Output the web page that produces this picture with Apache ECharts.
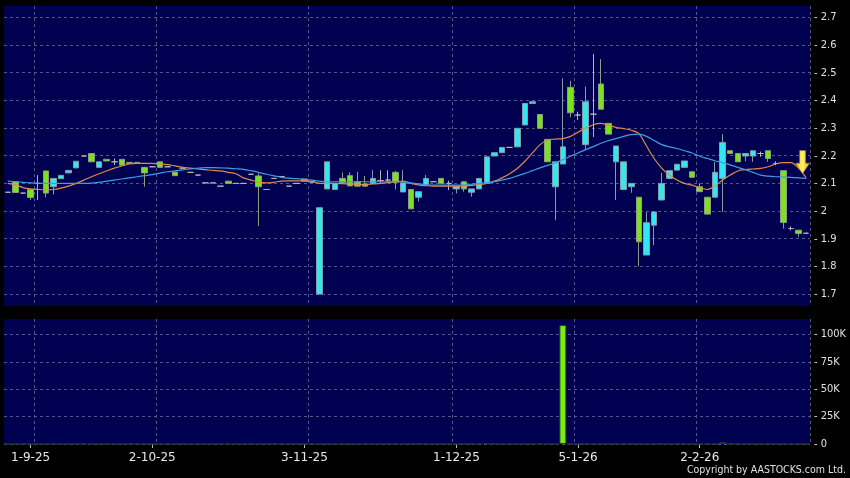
<!DOCTYPE html>
<html>
<head>
<meta charset="utf-8">
<script src="https://cdn.jsdelivr.net/npm/echarts@6/dist/echarts.min.js"></script>
<style>
	html, body { margin: 0; padding: 0; background: #000; }
	#chart { width: 850px; height: 478px; }
</style>
</head>
<body>
<div id="chart"></div>
<script>
	/*-----data-----*/
	var open = [2.068, 2.106, 2.065, 2.078, 2.100, 2.145, 2.088, 2.117, 2.138, 2.156,
		2.199, 2.208, 2.158, 2.187, 2.178, 2.187, 2.176, 2.176, 2.158, 2.160,
		2.178, 2.160, 2.141, 2.155, 2.140, 2.130, 2.102, 2.102, 2.090, 2.108,
		2.100, 2.100, 2.133, 2.127, 2.078, 2.118, 2.125, 2.090, 2.100, 2.116,
		2.105, 1.700, 2.080, 2.078, 2.118, 2.128, 2.106, 2.098, 2.100, 2.110,
		2.112, 2.140, 2.069, 2.078, 2.050, 2.096, 2.106, 2.118, 2.100, 2.080,
		2.106, 2.068, 2.080, 2.100, 2.199, 2.211, 2.230, 2.232, 2.311, 2.389,
		2.349, 2.259, 2.088, 2.170, 2.447, 2.347, 2.240, 2.350, 2.459, 2.317,
		2.178, 2.078, 2.088, 2.050, 1.841, 1.949, 2.040, 2.118, 2.148, 2.158,
		2.142, 2.088, 2.050, 2.050, 2.118, 2.218, 2.208, 2.199, 2.199, 2.208,
		2.218, 2.172, 2.146, 1.937, 1.931, 1.920];
	var close = [2.068, 2.067, 2.065, 2.049, 2.100, 2.065, 2.118, 2.129, 2.147, 2.180,
		2.199, 2.178, 2.178, 2.181, 2.178, 2.166, 2.172, 2.172, 2.138, 2.160,
		2.158, 2.160, 2.128, 2.155, 2.140, 2.130, 2.102, 2.102, 2.090, 2.100,
		2.100, 2.100, 2.133, 2.088, 2.078, 2.118, 2.125, 2.090, 2.100, 2.108,
		2.105, 2.012, 2.178, 2.100, 2.102, 2.091, 2.090, 2.090, 2.118, 2.110,
		2.112, 2.104, 2.102, 2.008, 2.070, 2.118, 2.106, 2.100, 2.100, 2.090,
		2.080, 2.080, 2.118, 2.196, 2.211, 2.230, 2.230, 2.299, 2.389, 2.395,
		2.299, 2.178, 2.178, 2.232, 2.355, 2.347, 2.395, 2.350, 2.368, 2.278,
		2.235, 2.178, 2.100, 1.889, 1.958, 1.997, 2.100, 2.146, 2.169, 2.181,
		2.122, 2.070, 1.989, 2.140, 2.248, 2.208, 2.178, 2.208, 2.218, 2.208,
		2.190, 2.172, 1.959, 1.937, 1.919, 1.920];
	var low = [2.068, 2.065, 2.065, 2.040, 2.040, 2.050, 2.060, 2.117, 2.138, 2.156,
		2.199, 2.178, 2.158, 2.181, 2.166, 2.166, 2.172, 2.172, 2.088, 2.160,
		2.158, 2.160, 2.128, 2.155, 2.140, 2.130, 2.102, 2.102, 2.090, 2.100,
		2.100, 2.100, 2.133, 1.946, 2.078, 2.118, 2.125, 2.090, 2.100, 2.108,
		2.105, 1.700, 2.080, 2.078, 2.102, 2.091, 2.090, 2.090, 2.100, 2.100,
		2.102, 2.078, 2.069, 2.008, 2.035, 2.096, 2.106, 2.100, 2.076, 2.064,
		2.070, 2.052, 2.080, 2.100, 2.199, 2.211, 2.230, 2.232, 2.311, 2.389,
		2.299, 2.178, 1.967, 2.170, 2.339, 2.329, 2.220, 2.268, 2.368, 2.278,
		2.040, 2.078, 2.066, 1.800, 1.841, 1.877, 2.040, 2.118, 2.148, 2.158,
		2.122, 2.070, 1.989, 2.050, 1.997, 2.208, 2.178, 2.180, 2.178, 2.196,
		2.178, 2.165, 1.937, 1.930, 1.907, 1.920];
	var high = [2.068, 2.108, 2.065, 2.078, 2.130, 2.145, 2.118, 2.129, 2.147, 2.180,
		2.199, 2.208, 2.178, 2.187, 2.190, 2.187, 2.176, 2.176, 2.160, 2.160,
		2.178, 2.160, 2.141, 2.155, 2.140, 2.130, 2.102, 2.102, 2.090, 2.108,
		2.100, 2.100, 2.133, 2.136, 2.078, 2.118, 2.125, 2.090, 2.100, 2.116,
		2.105, 2.012, 2.178, 2.100, 2.140, 2.140, 2.142, 2.127, 2.148, 2.148,
		2.148, 2.145, 2.148, 2.078, 2.070, 2.130, 2.106, 2.118, 2.110, 2.090,
		2.108, 2.080, 2.118, 2.196, 2.211, 2.230, 2.230, 2.299, 2.389, 2.395,
		2.349, 2.259, 2.178, 2.480, 2.471, 2.359, 2.450, 2.567, 2.549, 2.317,
		2.235, 2.178, 2.100, 2.050, 1.997, 1.997, 2.138, 2.146, 2.169, 2.181,
		2.142, 2.100, 2.050, 2.178, 2.278, 2.218, 2.208, 2.208, 2.218, 2.215,
		2.218, 2.180, 2.146, 1.945, 1.931, 1.920];
	var volume = [0, 0, 0, 0, 0, 0, 0, 0, 0, 0,
		0, 0, 0, 0, 0, 0, 0, 0, 0, 0,
		0, 0, 0, 0, 0, 0, 0, 0, 0, 0,
		0, 0, 0, 0, 0, 0, 0, 0, 0, 0,
		0, 0, 0, 0, 0, 0, 0, 0, 0, 0,
		0, 0, 0, 0, 0, 0, 0, 0, 0, 0,
		0, 0, 0, 600, 0, 0, 0, 0, 0, 0,
		0, 0, 0, 108500, 0, 0, 0, 0, 0, 0,
		0, 0, 0, 0, 0, 0, 0, 0, 0, 0,
		0, 0, 0, 0, 1500, 0, 0, 0, 0, 0,
		0, 0, 0, 0, 0, 0];
	var maShort = [2.100, 2.095, 2.085, 2.080, 2.078, 2.077, 2.078, 2.083, 2.090, 2.100,
		2.112, 2.124, 2.135, 2.145, 2.155, 2.163, 2.170, 2.172, 2.172, 2.172,
		2.170, 2.168, 2.163, 2.158, 2.155, 2.152, 2.150, 2.147, 2.145, 2.140,
		2.135, 2.120, 2.112, 2.105, 2.102, 2.104, 2.108, 2.109, 2.109, 2.109,
		2.107, 2.100, 2.100, 2.100, 2.099, 2.098, 2.097, 2.096, 2.098, 2.100,
		2.103, 2.106, 2.108, 2.100, 2.095, 2.092, 2.090, 2.090, 2.090, 2.090,
		2.090, 2.093, 2.096, 2.100, 2.108, 2.120, 2.135, 2.154, 2.180, 2.210,
		2.240, 2.257, 2.260, 2.262, 2.270, 2.285, 2.300, 2.312, 2.317, 2.310,
		2.302, 2.298, 2.292, 2.280, 2.235, 2.190, 2.155, 2.130, 2.112, 2.100,
		2.094, 2.084, 2.078, 2.090, 2.112, 2.130, 2.145, 2.150, 2.152, 2.154,
		2.160, 2.170, 2.175, 2.175, 2.155, 2.120];
	var maLong = [2.108, 2.106, 2.104, 2.102, 2.101, 2.100, 2.100, 2.100, 2.100, 2.100,
		2.100, 2.101, 2.104, 2.108, 2.112, 2.116, 2.120, 2.124, 2.128, 2.132,
		2.137, 2.142, 2.145, 2.149, 2.152, 2.155, 2.157, 2.157, 2.156, 2.155,
		2.153, 2.151, 2.146, 2.140, 2.133, 2.127, 2.122, 2.119, 2.117, 2.115,
		2.112, 2.108, 2.106, 2.106, 2.106, 2.106, 2.106, 2.106, 2.106, 2.106,
		2.106, 2.106, 2.106, 2.102, 2.098, 2.095, 2.094, 2.094, 2.094, 2.094,
		2.095, 2.097, 2.100, 2.102, 2.106, 2.112, 2.118, 2.127, 2.136, 2.146,
		2.156, 2.165, 2.174, 2.186, 2.198, 2.210, 2.222, 2.233, 2.245, 2.255,
		2.262, 2.270, 2.276, 2.278, 2.270, 2.255, 2.240, 2.232, 2.226, 2.218,
		2.210, 2.198, 2.190, 2.182, 2.175, 2.167, 2.158, 2.150, 2.140, 2.130,
		2.126, 2.124, 2.123, 2.122, 2.120, 2.118];
	var tickIndex = [3, 19, 39, 59, 75, 91];
	var tickText = ['1-9-25', '2-10-25', '3-11-25', '1-12-25', '5-1-26', '2-2-26'];
	var priceTicks = [1.7, 1.8, 1.9, 2.0, 2.1, 2.2, 2.3, 2.4, 2.5, 2.6, 2.7];
	var volumeTicks = [0, 25000, 50000, 75000, 100000];

	var days = [];
	var candles = [];
	for (var i = 0; i < open.length; i++) {
		days.push(String(i));
		candles.push([open[i], close[i], low[i], high[i]]);
	}
	// vertical grid lines sit on the left edge of these bands
	var splitAt = [4, 20, 40, 59, 75, 91];

	var gridLine = {
		show: true,
		lineStyle: {
			color: '#55558c',
			type: [3, 3],
			width: 1
		}
	};
	var labelFont = "'DejaVu Sans Condensed', 'Liberation Sans Narrow', 'DejaVu Sans', sans-serif";

	var chart = echarts.init(document.getElementById('chart'));
	var option = {
		animation: false,
		backgroundColor: '#000000',
		grid: [{
			left: 4,
			top: 6,
			width: 806,
			height: 300,
			show: true,
			backgroundColor: '#000050',
			borderWidth: 0
		}, {
			left: 4,
			top: 319,
			width: 806,
			height: 125,
			show: true,
			backgroundColor: '#000050',
			borderWidth: 0
		}],
		xAxis: [{
			type: 'category',
			gridIndex: 0,
			data: days,
			axisLine: { show: false },
			axisTick: { show: false },
			axisLabel: { show: false },
			splitLine: {
				show: true,
				interval: function(idx) { return splitAt.indexOf(idx) >= 0; },
				lineStyle: gridLine.lineStyle
			}
		}, {
			type: 'category',
			gridIndex: 1,
			data: days,
			axisLine: { show: false },
			axisTick: {
				show: true,
				alignWithLabel: true,
				length: 4,
				interval: function(idx) { return tickIndex.indexOf(idx) >= 0; },
				lineStyle: { color: '#bbbbbb' }
			},
			axisLabel: {
				show: true,
				interval: function(idx) { return tickIndex.indexOf(idx) >= 0; },
				formatter: function(v, idx) {
					var k = tickIndex.indexOf(idx);
					return k >= 0 ? tickText[k] : '';
				},
				color: '#e8e8e8',
				fontSize: 12,
				fontFamily: 'DejaVu Sans',
				margin: 8
			},
			splitLine: {
				show: true,
				interval: function(idx) { return splitAt.indexOf(idx) >= 0; },
				lineStyle: gridLine.lineStyle
			}
		}],
		yAxis: [{
			type: 'value',
			gridIndex: 0,
			position: 'right',
			min: 1.657,
			max: 2.741,
			axisLine: { show: false },
			axisTick: { show: false, customValues: priceTicks },
			axisLabel: {
				customValues: priceTicks,
				formatter: function(v) { return '- ' + (+v.toFixed(1)); },
				color: '#e0e0e0',
				fontSize: 11,
				fontFamily: labelFont,
				margin: 4
			},
			splitLine: gridLine
		}, {
			type: 'value',
			gridIndex: 1,
			position: 'right',
			min: 0,
			max: 114000,
			axisLine: { show: false },
			axisTick: { show: false, customValues: volumeTicks },
			axisLabel: {
				customValues: volumeTicks,
				formatter: function(v) { return '- ' + (v ? (v / 1000) + 'K' : '0'); },
				color: '#e0e0e0',
				fontSize: 11,
				fontFamily: labelFont,
				margin: 4
			},
			splitLine: gridLine
		}],
		series: [{
			name: 'price',
			type: 'candlestick',
			xAxisIndex: 0,
			yAxisIndex: 0,
			data: candles,
			barWidth: 6,
			itemStyle: {
				color: '#33e6f2',
				color0: '#7be21f',
				borderColor: '#7f9ea6',
				borderColor0: '#8e9c82',
				borderColorDoji: '#b4b4b4',
				borderWidth: 1
			}
		}, {
			name: 'ma10',
			type: 'line',
			xAxisIndex: 0,
			yAxisIndex: 0,
			data: maShort,
			symbol: 'none',
			smooth: 0.3,
			lineStyle: { color: '#e08a48', width: 1.2 }
		}, {
			name: 'ma20',
			type: 'line',
			xAxisIndex: 0,
			yAxisIndex: 0,
			data: maLong,
			symbol: 'none',
			smooth: 0.3,
			lineStyle: { color: '#3c9ce4', width: 1.2 },
			markPoint: {
				silent: true,
				label: { show: false },
				data: [{
					coord: [104, 2.177],
					symbol: 'path://M3,0 L9,0 L9,12 L13,12 L6,22 L-1,12 L3,12 Z',
					symbolSize: [14, 23],
					symbolOffset: [4, 0],
					itemStyle: {
						color: new echarts.graphic.LinearGradient(0, 0, 1, 0, [{
							offset: 0,
							color: '#f7c51a'
						}, {
							offset: 0.5,
							color: '#fff06a'
						}, {
							offset: 1,
							color: '#e8a810'
						}]),
						borderColor: '#a07a10',
						borderWidth: 0.5
					}
				}]
			}
		}, {
			name: 'volume',
			type: 'bar',
			xAxisIndex: 1,
			yAxisIndex: 1,
			data: volume,
			barWidth: 7,
			itemStyle: {
				color: '#76ee12',
				borderColor: '#223c22',
				borderWidth: 1
			}
		}],
		graphic: [{
			type: 'text',
			right: 4,
			top: 465,
			style: {
				text: 'Copyright by AASTOCKS.com Ltd.',
				fill: '#e0e0e0',
				font: "10.5px 'DejaVu Sans Condensed', 'Liberation Sans Narrow', 'DejaVu Sans', sans-serif"
			}
		}]
	};
	chart.setOption(option);
</script>
</body>
</html>
